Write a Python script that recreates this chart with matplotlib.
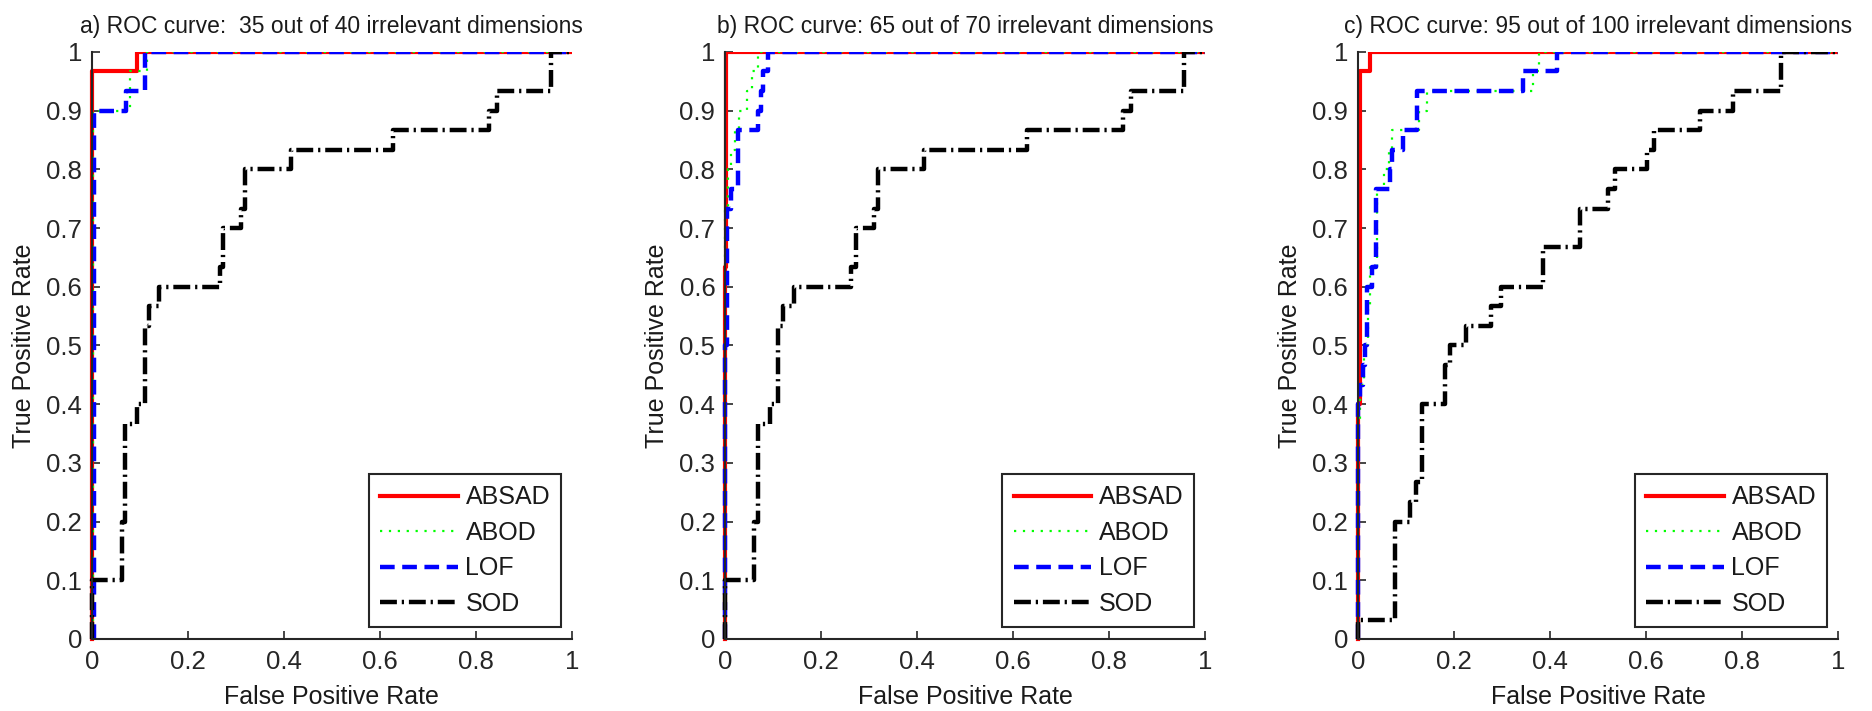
import matplotlib
matplotlib.use("Agg")
import matplotlib.pyplot as plt
from matplotlib.patches import Rectangle

plt.rcParams['font.family'] = ['Liberation Sans', 'DejaVu Sans']

# ---- data ----
titles = ["a) ROC curve:  35 out of 40 irrelevant dimensions",
          "b) ROC curve: 65 out of 70 irrelevant dimensions",
          "c) ROC curve: 95 out of 100 irrelevant dimensions"]
methods = ["ABSAD", "ABOD", "LOF", "SOD"]

# panel a
absad_a_x = [0, 0, 0.094, 0.094, 1]
absad_a_y = [0, 0.967, 0.967, 1, 1]
abod_a_x = [0.002, 0.002, 0.08, 0.08, 0.115, 0.115, 1]
abod_a_y = [0, 0.9, 0.9, 0.967, 0.967, 1, 1]
lof_a_x = [0.004, 0.004, 0.072, 0.072, 0.11, 0.11, 1]
lof_a_y = [0, 0.9, 0.9, 0.933, 0.933, 1, 1]
sod_a_x = [0, 0, 0.062, 0.062, 0.069, 0.069, 0.093, 0.093, 0.11, 0.11, 0.119, 0.119,
           0.139, 0.139, 0.267, 0.267, 0.274, 0.274, 0.31, 0.31, 0.318, 0.318, 0.414, 0.414,
           0.628, 0.628, 0.827, 0.827, 0.843, 0.843, 0.957, 0.957, 1]
sod_a_y = [0, 0.1, 0.1, 0.2, 0.2, 0.367, 0.367, 0.4, 0.4, 0.533, 0.533, 0.567,
           0.567, 0.6, 0.6, 0.633, 0.633, 0.7, 0.7, 0.733, 0.733, 0.8, 0.8, 0.833,
           0.833, 0.867, 0.867, 0.9, 0.9, 0.933, 0.933, 1, 1]

# panel b
absad_b_x = [0, 0, 0.003, 0.003, 1]
absad_b_y = [0, 0.633, 0.633, 1, 1]
abod_b_x = [0, 0, 0.006, 0.006, 0.012, 0.012, 0.02, 0.02, 0.03, 0.03, 0.045, 0.045,
            0.057, 0.057, 0.068, 0.068, 1]
abod_b_y = [0, 0.733, 0.733, 0.8, 0.8, 0.833, 0.833, 0.867, 0.867, 0.9, 0.9, 0.933,
            0.933, 0.967, 0.967, 1, 1]
lof_b_x = [0, 0, 0.004, 0.004, 0.012, 0.012, 0.028, 0.028, 0.068, 0.068, 0.075, 0.075,
           0.08, 0.08, 0.09, 0.09, 1]
lof_b_y = [0, 0.5, 0.5, 0.733, 0.733, 0.767, 0.767, 0.867, 0.867, 0.9, 0.9, 0.933,
           0.933, 0.967, 0.967, 1, 1]
sod_b_x = [0, 0, 0.061, 0.061, 0.068, 0.068, 0.093, 0.093, 0.11, 0.11, 0.12, 0.12,
           0.143, 0.143, 0.263, 0.263, 0.272, 0.272, 0.31, 0.31, 0.319, 0.319, 0.414, 0.414,
           0.629, 0.629, 0.829, 0.829, 0.845, 0.845, 0.956, 0.956, 1]
sod_b_y = sod_a_y[:]

# panel c
absad_c_x = [0, 0, 0.005, 0.005, 0.026, 0.026, 1]
absad_c_y = [0, 0.4, 0.4, 0.967, 0.967, 1, 1]
abod_c_x = [0, 0, 0.005, 0.005, 0.012, 0.012, 0.02, 0.02, 0.025, 0.025, 0.04, 0.04,
            0.055, 0.055, 0.065, 0.065, 0.07, 0.07, 0.128, 0.128, 0.143, 0.143,
            0.365, 0.365, 0.378, 0.378, 1]
abod_c_y = [0, 0.367, 0.367, 0.433, 0.433, 0.5, 0.5, 0.567, 0.567, 0.633, 0.633, 0.767,
            0.767, 0.8, 0.8, 0.833, 0.833, 0.867, 0.867, 0.9, 0.9, 0.933,
            0.933, 0.967, 0.967, 1, 1]
lof_c_x = [0, 0, 0.005, 0.005, 0.01, 0.01, 0.014, 0.014, 0.018, 0.018, 0.03, 0.03,
           0.038, 0.038, 0.066, 0.066, 0.07, 0.07, 0.094, 0.094, 0.124, 0.124,
           0.343, 0.343, 0.415, 0.415, 1]
lof_c_y = [0, 0.4, 0.4, 0.433, 0.433, 0.467, 0.467, 0.5, 0.5, 0.6, 0.6, 0.633,
           0.633, 0.767, 0.767, 0.8, 0.8, 0.833, 0.833, 0.867, 0.867, 0.933,
           0.933, 0.967, 0.967, 1, 1]
sod_c_x = [0, 0, 0.078, 0.078, 0.108, 0.108, 0.12, 0.12, 0.133, 0.133, 0.181, 0.181,
           0.192, 0.192, 0.225, 0.225, 0.278, 0.278, 0.299, 0.299, 0.386, 0.386,
           0.463, 0.463, 0.52, 0.52, 0.535, 0.535, 0.603, 0.603, 0.617, 0.617,
           0.713, 0.713, 0.782, 0.782, 0.882, 0.882, 1]
sod_c_y = [0, 0.033, 0.033, 0.2, 0.2, 0.233, 0.233, 0.267, 0.267, 0.4, 0.4, 0.467,
           0.467, 0.5, 0.5, 0.533, 0.533, 0.567, 0.567, 0.6, 0.6, 0.667,
           0.667, 0.733, 0.733, 0.767, 0.767, 0.8, 0.8, 0.833, 0.833, 0.867,
           0.867, 0.9, 0.9, 0.933, 0.933, 1, 1]

xticks = [0, 0.2, 0.4, 0.6, 0.8, 1]
xticklabels = ["0", "0.2", "0.4", "0.6", "0.8", "1"]
yticks = [0, 0.1, 0.2, 0.3, 0.4, 0.5, 0.6, 0.7, 0.8, 0.9, 1]
yticklabels = ["0", "0.1", "0.2", "0.3", "0.4", "0.5", "0.6", "0.7", "0.8", "0.9", "1"]

panels = [
    [(absad_a_x, absad_a_y), (abod_a_x, abod_a_y), (lof_a_x, lof_a_y), (sod_a_x, sod_a_y)],
    [(absad_b_x, absad_b_y), (abod_b_x, abod_b_y), (lof_b_x, lof_b_y), (sod_b_x, sod_b_y)],
    [(absad_c_x, absad_c_y), (abod_c_x, abod_c_y), (lof_c_x, lof_c_y), (sod_c_x, sod_c_y)],
]

styles = [
    dict(color="#ff0000", lw=3.0, ls="-"),
    dict(color="#00ff00", lw=1.6, ls=(0, (1, 3))),
    dict(color="#0000ff", lw=3.2, ls=(0, (3.3, 1.7))),
    dict(color="#000000", lw=3.2, ls=(0, (3.8, 1.1, 0.5, 1.1))),
]

axcol = "#262626"
txtcol = "#1a1a1a"
lefts = [0.0491, 0.3873, 0.7254]

fig = plt.figure(figsize=(18.72, 7.11), dpi=100)
for i in range(3):
    ax = fig.add_axes([lefts[i], 0.1013, 0.2564, 0.8256])
    for j in range(4):
        xs, ys = panels[i][j]
        ln, = ax.plot(xs, ys, label=methods[j], **styles[j])
        # lines on the left edge stay visible, top/right edge gets clipped
        ln.set_clip_path(Rectangle((-0.03, -0.03), 1.03, 1.03, transform=ax.transAxes))
    ax.set_xlim(0, 1)
    ax.set_ylim(0, 1)
    ax.set_xticks(xticks)
    ax.set_xticklabels(xticklabels)
    ax.set_yticks(yticks)
    ax.set_yticklabels(yticklabels)
    ax.tick_params(direction="in", length=6, width=1.2, labelsize=18.5, colors=axcol)
    ax.tick_params(axis="x", pad=8)
    ax.tick_params(axis="y", pad=7)
    ax.spines["top"].set_visible(False)
    ax.spines["right"].set_visible(False)
    for s in ["left", "bottom"]:
        ax.spines[s].set_color(axcol)
        ax.spines[s].set_linewidth(1.5)
    ax.set_title(titles[i], fontsize=16.5, pad=14, color=txtcol)
    ax.set_xlabel("False Positive Rate", fontsize=18, color=txtcol)
    ax.set_ylabel("True Positive Rate", fontsize=18, color=txtcol)
    ax.xaxis.set_label_coords(0.5, -0.078)
    ax.yaxis.set_label_coords(-0.117, 0.5)
    leg = ax.legend(loc="lower right", bbox_to_anchor=(0.978, 0.0204), fontsize=18,
                    frameon=True, fancybox=False, framealpha=1, edgecolor=axcol,
                    handlelength=3.1, handletextpad=0.3, labelspacing=0.46,
                    borderpad=0.45, borderaxespad=0)
    leg.get_frame().set_linewidth(1.5)
    for t in leg.get_texts():
        t.set_color(txtcol)

fig.savefig("out.png", dpi=100)
